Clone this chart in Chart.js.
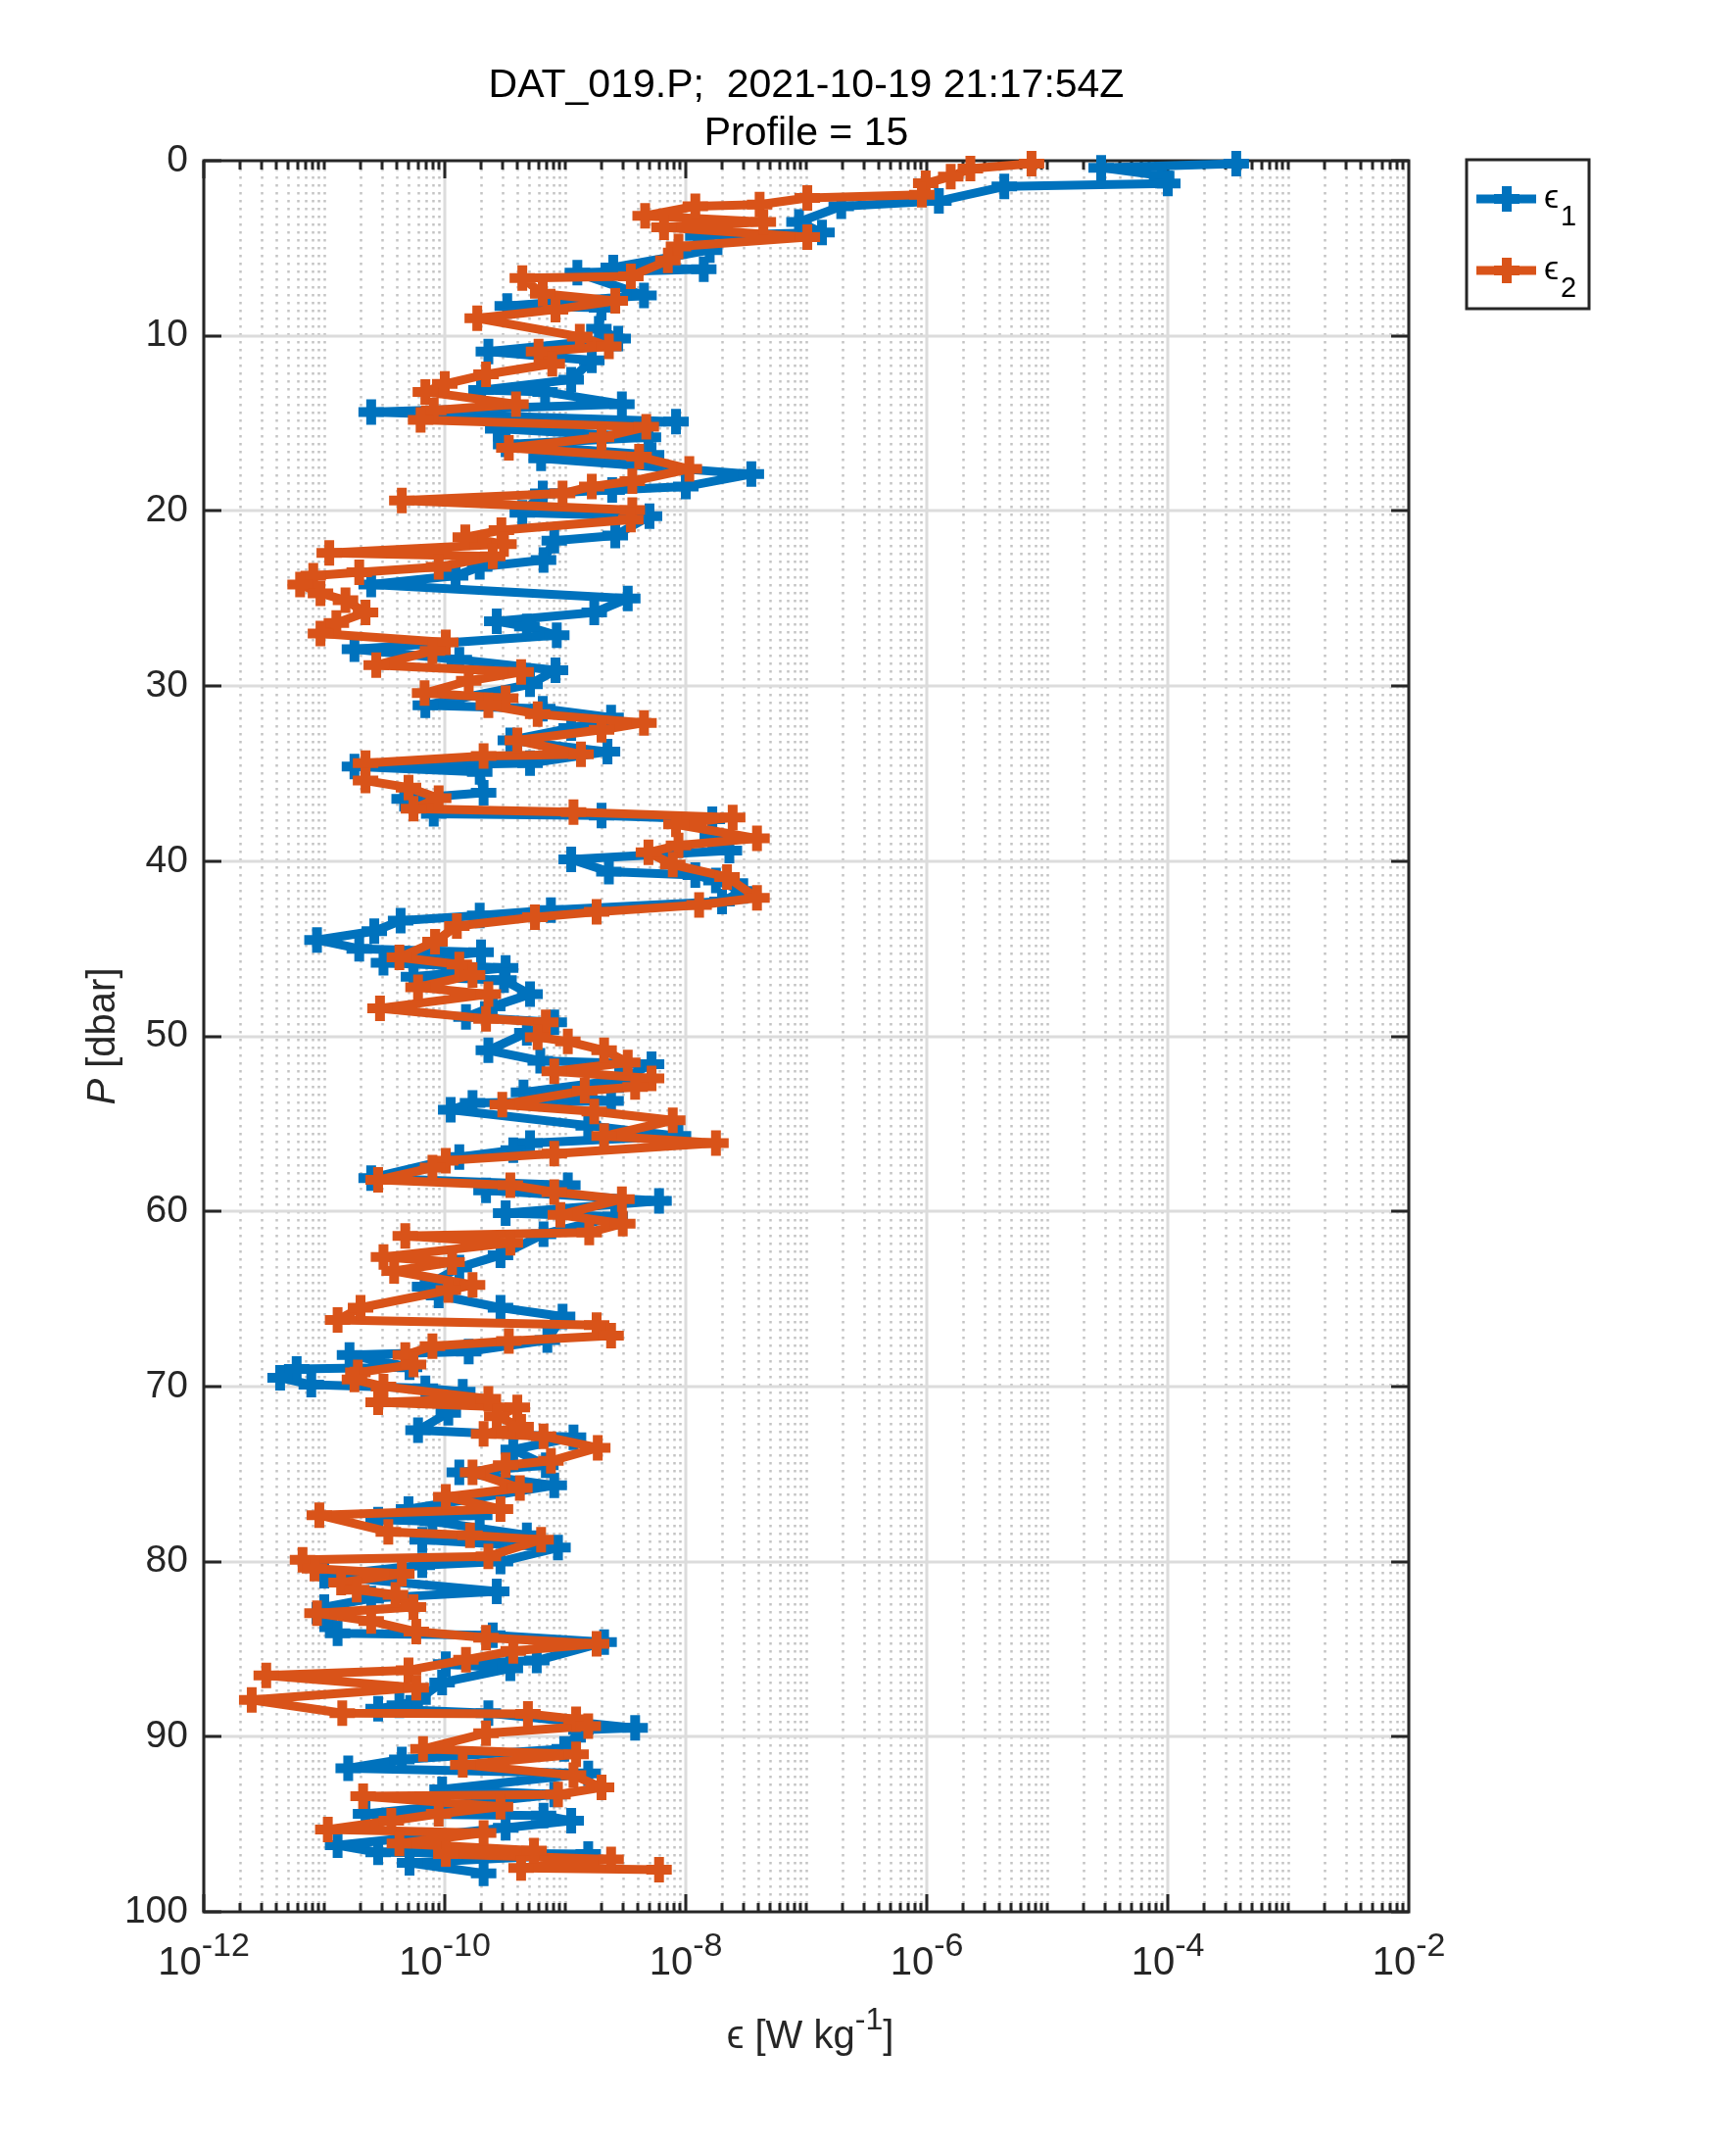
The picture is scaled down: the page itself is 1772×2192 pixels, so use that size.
<!DOCTYPE html>
<html>
<head>
<meta charset="utf-8">
<script src="https://cdn.jsdelivr.net/npm/chart.js@4.4.0/dist/chart.umd.min.js"></script>
<style>
  html, body { margin: 0; padding: 0; background: #fff; }
  #wrap { width: 1772px; height: 2192px; }
</style>
</head>
<body>
<div id="wrap"><canvas id="myChart" width="1772" height="2192"></canvas></div>
<script>
// pressure [dbar] and dissipation [W/kg]
const pressure1 = [0.17, 0.4, 0.85, 1.3, 1.47, 2.3, 2.6, 3.5, 4.1, 4.3, 5.1, 6.1, 6.2, 6.4, 7.7, 8.3, 8.4, 9.6, 10.15, 10.9,
  11.4, 12.5, 13.1, 13.2, 13.9, 14.35, 14.9, 15.3, 15.8, 16.2, 16.8, 17.0, 17.9, 18.6, 18.8, 19.0, 20.1, 20.3, 21.4, 21.7,
  22.8, 23.2, 23.7, 24.2, 25.0, 25.8, 26.3, 26.6, 27.1, 27.9, 28.5, 29.1, 29.9, 31.1, 31.3, 31.8, 32.4, 33.1, 33.75, 34.4,
  34.6, 34.9, 36.1, 36.45, 37.3, 37.4, 37.6, 38.5, 39.4, 39.9, 40.6, 40.8, 41.1, 41.7, 42.3, 42.8, 43.1, 43.4, 44.0, 44.5,
  45.0, 45.2, 45.8, 46.1, 46.6, 46.8, 47.6, 48.3, 48.9, 49.2, 49.8, 50.8, 51.4, 51.6, 52.5, 53.2, 53.7, 53.8, 54.2, 55.1,
  55.7, 56.1, 56.5, 56.9, 58.1, 58.5, 58.8, 59.4, 60.1, 60.3, 61.3, 62.5, 63.2, 64.3, 64.8, 65.5, 66.0, 67.35, 68.0, 68.2,
  68.9, 69.0, 69.5, 69.9, 70.1, 70.3, 71.5, 72.5, 72.9, 73.6, 74.5, 74.9, 75.65, 77.0, 77.35, 77.6, 77.7, 78.5, 78.75, 79.2,
  80.0, 80.2, 80.8, 81.7, 82.1, 82.6, 83.3, 84.1, 84.2, 84.6, 85.65, 85.85, 86.1, 86.9, 87.9, 88.2, 88.4, 88.65, 89.5, 89.6,
  90.7, 91.3, 91.8, 92.1, 93.0, 93.3, 94.4, 94.5, 94.8, 95.2, 96.2, 96.6, 96.7, 97.2, 97.8];
const epsilon1 = [3.7e-4, 2.8e-5, 8.9e-5, 1.0e-4, 4.4e-6, 1.26e-6, 1.95e-7, 8.7e-8, 1.35e-7, 1.26e-8, 1.58e-8, 2.5e-9, 1.41e-8, 1.26e-9, 4.5e-9, 3.3e-10, 2.0e-9, 1.9e-9, 2.75e-9, 2.3e-10,
  1.66e-9, 1.12e-9, 2.0e-10, 6.8e-10, 2.95e-9, 2.45e-11, 8.3e-9, 2.75e-10, 4.9e-9, 3.2e-10, 5.2e-9, 6.3e-10, 3.5e-8, 1.0e-8, 2.45e-9, 6.5e-10, 4.4e-10, 5.0e-9, 2.6e-9, 8.1e-10,
  6.6e-10, 1.95e-10, 1.23e-10, 2.45e-11, 3.3e-9, 1.74e-9, 2.7e-10, 4.8e-10, 8.5e-10, 1.78e-11, 1.32e-10, 8.3e-10, 5.1e-10, 6.9e-11, 6.5e-10, 2.4e-9, 1.12e-9, 3.5e-10, 2.24e-9, 5.1e-10,
  1.78e-11, 1.95e-10, 2.1e-10, 4.6e-11, 8.1e-11, 2.0e-9, 1.66e-8, 1.66e-8, 2.3e-8, 1.12e-9, 2.3e-9, 1.2e-8, 1.78e-8, 3.0e-8, 2.0e-8, 7.6e-10, 1.95e-10, 4.3e-11, 2.6e-11, 8.7e-12,
  1.95e-11, 2.0e-10, 3.1e-11, 3.2e-10, 5.5e-11, 3.1e-10, 5.1e-10, 2.5e-10, 1.5e-10, 8.1e-10, 4.8e-10, 2.3e-10, 6.2e-10, 5.2e-9, 2.8e-9, 4.5e-10, 2.4e-9, 1.7e-10, 1.12e-10, 1.55e-9,
  8.7e-9, 5.1e-10, 3.7e-10, 1.32e-10, 2.45e-11, 1.05e-9, 2.2e-10, 6.0e-9, 3.2e-10, 2.6e-9, 6.6e-10, 2.9e-10, 1.32e-10, 6.8e-11, 8.9e-11, 2.9e-10, 9.5e-10, 7.1e-10, 1.58e-10, 1.62e-11,
  5.1e-11, 5.9e-12, 4.3e-12, 7.8e-12, 6.9e-11, 1.41e-10, 1.07e-10, 6.0e-11, 1.17e-9, 3.7e-10, 6.9e-10, 1.32e-10, 8.1e-10, 5.0e-11, 1.95e-10, 2.8e-11, 7.9e-11, 4.8e-10, 6.5e-11, 8.7e-10,
  2.9e-10, 6.5e-11, 1.0e-11, 2.7e-10, 2.45e-11, 1.0e-11, 1.0e-11, 1.29e-11, 2.5e-10, 2.1e-9, 5.8e-10, 1.02e-10, 3.5e-10, 9.5e-11, 6.0e-11, 4.2e-11, 2.8e-11, 2.3e-10, 3.8e-9, 1.35e-9,
  9.8e-10, 4.4e-11, 1.58e-11, 1.55e-9, 9.5e-11, 8.1e-10, 2.2e-11, 6.6e-10, 1.12e-9, 3.2e-10, 1.29e-11, 2.8e-11, 1.55e-9, 5.1e-11, 2.1e-10];

const pressure2 = [0.17, 0.45, 0.91, 1.29, 1.94, 2.13, 2.5, 2.6, 3.15, 3.5, 3.8, 4.37, 4.9, 5.7, 6.6, 6.7, 7.6, 8.0, 8.5, 9.0,
  10.05, 10.6, 10.9, 11.6, 12.2, 12.75, 13.2, 13.9, 14.25, 14.8, 15.2, 15.8, 16.4, 16.9, 17.6, 18.3, 18.6, 19.0, 19.4, 19.95,
  20.5, 21.1, 21.5, 21.9, 22.4, 22.6, 23.2, 23.5, 23.7, 24.2, 24.7, 25.1, 25.8, 26.4, 27.0, 27.5, 28.0, 28.8, 29.2, 29.7,
  30.4, 30.7, 31.1, 31.6, 32.1, 32.5, 33.1, 33.9, 34.0, 34.4, 35.4, 35.8, 36.4, 37.0, 37.2, 37.5, 37.9, 38.7, 39.1, 39.5,
  40.2, 40.9, 42.1, 42.5, 42.9, 43.2, 43.7, 44.6, 45.5, 45.9, 46.5, 47.2, 47.6, 48.4, 49.0, 49.2, 50.05, 50.3, 50.8, 51.5,
  52.0, 52.4, 52.9, 53.1, 53.9, 54.3, 54.8, 55.7, 56.1, 56.7, 57.1, 57.5, 58.2, 58.5, 58.9, 59.3, 60.2, 60.7, 61.2, 61.4,
  61.8, 62.6, 62.9, 63.4, 64.2, 64.5, 65.5, 66.2, 66.5, 67.1, 67.4, 67.7, 68.2, 68.75, 69.2, 69.6, 70.0, 70.7, 70.9, 71.2,
  71.7, 72.3, 72.7, 72.85, 73.5, 74.25, 74.5, 74.9, 75.8, 76.3, 77.0, 77.35, 78.3, 78.5, 78.75, 79.7, 79.9, 80.4, 80.7, 81.2,
  81.6, 81.9, 82.6, 82.95, 83.4, 84.0, 84.35, 84.7, 85.1, 85.6, 86.2, 86.5, 87.2, 87.9, 88.65, 88.7, 89.0, 89.4, 89.8, 90.7,
  91.0, 91.6, 92.2, 92.9, 93.3, 93.4, 94.0, 94.4, 94.8, 95.3, 95.5, 96.1, 96.5, 96.7, 97.0, 97.5, 97.6];
const epsilon2 = [7.4e-6, 2.3e-6, 1.58e-6, 9.8e-7, 9.1e-7, 1.02e-7, 4.1e-8, 1.2e-8, 4.6e-9, 4.4e-8, 6.6e-9, 1.02e-7, 8.7e-9, 7.1e-9, 3.5e-9, 4.4e-10, 6.5e-10, 2.6e-9, 8.3e-10, 1.86e-10,
  1.32e-9, 2.3e-9, 6.0e-10, 7.8e-10, 2.2e-10, 1.0e-10, 6.9e-11, 3.9e-10, 8.1e-11, 6.3e-11, 4.7e-9, 2.0e-9, 3.4e-10, 4.1e-9, 1.07e-8, 3.6e-9, 1.66e-9, 9.5e-10, 4.4e-11, 3.6e-9,
  3.5e-9, 2.95e-10, 1.48e-10, 3.1e-10, 1.1e-11, 2.5e-10, 8.9e-11, 1.95e-11, 8.1e-12, 6.3e-12, 9.3e-12, 1.5e-11, 2.2e-11, 1.26e-11, 9.3e-12, 1.02e-10, 7.9e-11, 2.7e-11, 4.3e-10, 1.58e-10,
  6.8e-11, 3.2e-10, 2.3e-10, 5.9e-10, 4.5e-9, 2.0e-9, 4.0e-10, 1.35e-9, 2.1e-10, 2.2e-11, 2.2e-11, 5.0e-11, 8.9e-11, 5.5e-11, 1.17e-9, 2.45e-8, 8.3e-9, 3.9e-8, 8.7e-9, 4.9e-9,
  7.8e-9, 2.2e-8, 3.9e-8, 1.29e-8, 1.82e-9, 5.6e-10, 1.26e-10, 8.3e-11, 4.2e-11, 1.32e-10, 1.7e-10, 6.0e-11, 2.3e-10, 2.9e-11, 2.2e-10, 6.9e-10, 5.9e-10, 1.05e-9, 2.1e-9, 3.3e-9,
  8.1e-10, 5.2e-9, 3.8e-9, 1.45e-9, 3.0e-10, 1.74e-9, 7.8e-9, 2.1e-9, 1.78e-8, 8.1e-10, 1.02e-10, 7.9e-11, 2.8e-11, 3.5e-10, 8.1e-10, 2.95e-9, 9.1e-10, 3.0e-9, 1.58e-9, 4.7e-11,
  3.5e-10, 3.1e-11, 1.15e-10, 3.8e-11, 1.7e-10, 1.07e-10, 2.0e-11, 1.29e-11, 1.82e-9, 2.4e-9, 3.4e-10, 7.9e-11, 4.7e-11, 5.5e-11, 1.9e-11, 1.78e-11, 3.1e-11, 2.3e-10, 2.8e-11, 4.0e-10,
  2.7e-10, 4.3e-10, 2.1e-10, 6.6e-10, 1.86e-9, 7.6e-10, 3.2e-10, 1.7e-10, 4.2e-10, 1.02e-10, 2.9e-10, 9.1e-12, 3.4e-11, 1.62e-10, 6.3e-10, 2.3e-10, 6.6e-12, 8.3e-12, 4.4e-11, 1.38e-11,
  1.86e-11, 3.9e-11, 5.5e-11, 8.7e-12, 2.45e-11, 5.8e-11, 2.2e-10, 1.82e-9, 3.7e-10, 1.5e-10, 5.0e-11, 3.3e-12, 5.8e-11, 2.5e-12, 1.41e-11, 4.9e-10, 1.23e-9, 1.55e-9, 2.2e-10, 6.6e-11,
  1.23e-9, 1.41e-10, 1.17e-9, 2.0e-9, 8.7e-10, 2.1e-11, 2.9e-10, 8.9e-11, 3.6e-11, 1.07e-11, 2.1e-10, 4.2e-11, 5.5e-10, 1.02e-10, 2.4e-9, 4.3e-10, 6.0e-9];

const xTickPowers = [-12, -10, -8, -6, -4, -2];
const yTickStep = 10;
const seriesSubscripts = ['1', '2'];
const seriesColors = ['#0072BD', '#D95319'];
const titleLines = ['DAT_019.P;  2021-10-19 21:17:54Z', 'Profile = 15'];

const FONT = '"Liberation Sans", Arial, Helvetica, sans-serif';
const AXIS_COLOR = '#262626';
const LINE_W = 9;
const MARK_R = 13;
const MARK_W = 10;

function toPoints(pres, eps) {
  return pres.map((p, i) => ({ x: eps[i], y: p }));
}

function seg(ctx, x1, y1, x2, y2) {
  ctx.beginPath();
  ctx.moveTo(x1, y1);
  ctx.lineTo(x2, y2);
  ctx.stroke();
}

const matlabAxes = {
  id: 'matlabAxes',
  beforeDatasetsDraw(chart) {
    const { ctx, chartArea: a, scales } = chart;
    const xs = scales.x, ys = scales.y;
    ctx.save();

    // minor x grid, dotted
    ctx.strokeStyle = '#c4c4c4';
    ctx.lineWidth = 2.5;
    ctx.setLineDash([2.5, 5.5]);
    for (let d = -12; d < -2; d++) {
      for (let m = 1; m <= 9; m++) {
        if (m === 1 && d % 2 === 0) continue;
        const px = Math.round(xs.getPixelForValue(m * Math.pow(10, d))) + 0.5;
        seg(ctx, px, a.top, px, a.bottom);
      }
    }
    ctx.setLineDash([]);

    // major grid
    ctx.strokeStyle = '#dcdcdc';
    ctx.lineWidth = 3;
    xTickPowers.forEach(pw => {
      const px = Math.round(xs.getPixelForValue(Math.pow(10, pw)));
      seg(ctx, px, a.top, px, a.bottom);
    });
    for (let v = yTickStep; v < 100; v += yTickStep) {
      const py = Math.round(ys.getPixelForValue(v));
      seg(ctx, a.left, py, a.right, py);
    }

    // ticks (inward, all four sides)
    ctx.strokeStyle = AXIS_COLOR;
    ctx.lineWidth = 3;
    for (let d = -12; d < -2; d++) {
      for (let m = 1; m <= 9; m++) {
        const px = Math.round(xs.getPixelForValue(m * Math.pow(10, d)));
        const len = (m === 1 && d % 2 === 0) ? 18 : 9;
        seg(ctx, px, a.bottom, px, a.bottom - len);
        seg(ctx, px, a.top, px, a.top + len);
      }
    }
    for (let v = 0; v <= 100; v += yTickStep) {
      const py = Math.round(ys.getPixelForValue(v));
      seg(ctx, a.left, py, a.left + 18, py);
      seg(ctx, a.right, py, a.right - 18, py);
    }

    // box
    ctx.lineWidth = 3;
    ctx.strokeRect(a.left, a.top, a.right - a.left, a.bottom - a.top);
    ctx.restore();
  },

  afterDraw(chart) {
    const { ctx, chartArea: a, scales } = chart;
    const xs = scales.x;
    ctx.save();
    ctx.fillStyle = AXIS_COLOR;
    ctx.textBaseline = 'alphabetic';
    ctx.textAlign = 'left';

    // x tick labels: 10^n
    xTickPowers.forEach(pw => {
      const px = xs.getPixelForValue(Math.pow(10, pw));
      ctx.font = '40px ' + FONT;
      const wBase = ctx.measureText('10').width;
      ctx.font = '34px ' + FONT;
      const sup = String(pw);
      const wSup = ctx.measureText(sup).width;
      const x0 = px - (wBase + wSup) / 2;
      ctx.font = '40px ' + FONT;
      ctx.fillText('10', x0, 2015);
      ctx.font = '34px ' + FONT;
      ctx.fillText(sup, x0 + wBase, 1996);
    });

    // x axis label
    const cx = (a.left + a.right) / 2 + 4;
    const parts = [
      { t: '\u03F5', f: '40px ' + FONT, dy: 0 },
      { t: ' [W kg', f: '40px ' + FONT, dy: 0 },
      { t: '-1', f: '32px ' + FONT, dy: -19 },
      { t: ']', f: '40px ' + FONT, dy: 0 }
    ];
    let total = 0;
    parts.forEach(p => { ctx.font = p.f; p.w = ctx.measureText(p.t).width; total += p.w; });
    let xx = cx - total / 2;
    parts.forEach(p => { ctx.font = p.f; ctx.fillText(p.t, xx, 2090 + p.dy); xx += p.w; });

    // y axis label
    ctx.save();
    ctx.translate(117, (a.top + a.bottom) / 2);
    ctx.rotate(-Math.PI / 2);
    ctx.font = 'italic 40px ' + FONT;
    const wP = ctx.measureText('P').width;
    ctx.font = '40px ' + FONT;
    const wRest = ctx.measureText(' [dbar]').width;
    const sx = -(wP + wRest) / 2;
    ctx.font = 'italic 40px ' + FONT;
    ctx.fillText('P', sx, 0);
    ctx.font = '40px ' + FONT;
    ctx.fillText(' [dbar]', sx + wP, 0);
    ctx.restore();

    // title
    ctx.fillStyle = '#000';
    ctx.textAlign = 'center';
    ctx.font = '41px ' + FONT;
    ctx.fillText(titleLines[0], (a.left + a.right) / 2, 99);
    ctx.fillText(titleLines[1], (a.left + a.right) / 2, 148);

    // legend
    ctx.textAlign = 'left';
    ctx.fillStyle = '#fff';
    ctx.fillRect(1497, 163, 125, 152);
    ctx.strokeStyle = AXIS_COLOR;
    ctx.lineWidth = 3;
    ctx.strokeRect(1497, 163, 125, 152);
    const rows = [203, 276];
    chart.data.datasets.forEach((ds, i) => {
      const ly = rows[i];
      ctx.strokeStyle = ds.borderColor;
      ctx.lineWidth = LINE_W;
      seg(ctx, 1507, ly, 1568, ly);
      ctx.lineWidth = MARK_W;
      seg(ctx, 1538 - MARK_R, ly, 1538 + MARK_R, ly);
      seg(ctx, 1538, ly - MARK_R, 1538, ly + MARK_R);
      ctx.fillStyle = '#000';
      ctx.font = '34px ' + FONT;
      ctx.fillText('\u03F5', 1576, ly + 9);
      const we = ctx.measureText('\u03F5').width;
      ctx.font = '29px ' + FONT;
      ctx.fillText(seriesSubscripts[i], 1576 + we + 2, ly + 27);
    });

    ctx.restore();
  }
};

const ctx = document.getElementById('myChart');

function makeSeries(label, pres, eps, color, order) {
  return {
    label: label,
    data: toPoints(pres, eps),
    showLine: true,
    borderColor: color,
    backgroundColor: color,
    borderWidth: LINE_W,
    borderJoinStyle: 'round',
    pointStyle: 'cross',
    pointRadius: MARK_R,
    pointBorderWidth: MARK_W,
    pointBorderColor: color,
    clip: false,
    order: order
  };
}

new Chart(ctx, {
  type: 'scatter',
  data: {
    datasets: [
      makeSeries('\u03F5\u2081', pressure1, epsilon1, seriesColors[0], 2),
      makeSeries('\u03F5\u2082', pressure2, epsilon2, seriesColors[1], 1)
    ]
  },
  options: {
    responsive: false,
    devicePixelRatio: 1,
    animation: false,
    layout: { padding: { left: 0, top: 164, right: 334, bottom: 0 } },
    plugins: {
      legend: { display: false },
      title: { display: false },
      tooltip: { enabled: false }
    },
    scales: {
      x: {
        type: 'logarithmic',
        position: 'bottom',
        min: 1e-12,
        max: 1e-2,
        grid: { display: false },
        border: { display: false },
        ticks: { display: false },
        afterFit: s => { s.height = 241; }
      },
      y: {
        type: 'linear',
        reverse: true,
        min: 0,
        max: 100,
        grid: { display: false, drawTicks: false },
        border: { display: false },
        ticks: {
          stepSize: yTickStep,
          padding: 16,
          color: AXIS_COLOR,
          font: { family: FONT, size: 39 }
        },
        afterFit: s => { s.width = 208; }
      }
    }
  },
  plugins: [matlabAxes]
});
</script>
</body>
</html>
